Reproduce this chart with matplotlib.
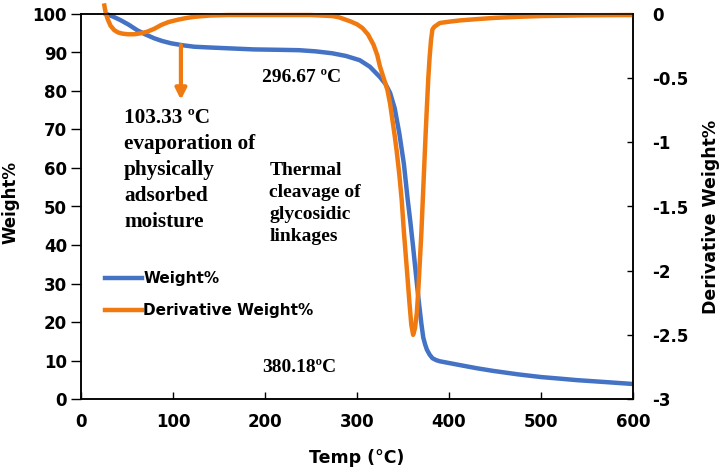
import matplotlib
matplotlib.use("Agg")
import matplotlib.pyplot as plt
from matplotlib.lines import Line2D

# ---- data ----
temp_w = [25, 30, 36, 43, 52, 61, 70, 79.5, 88, 97.7, 110, 123, 140, 159, 188, 215,
          237, 255, 273, 288, 303, 314, 325, 331, 336, 341, 346, 351, 355, 358, 361,
          364, 367, 370, 372, 374, 376, 379, 382, 386, 390, 401, 412, 430, 448, 475,
          500, 520, 539, 570, 600]
weight = [100.2, 99.8, 99.2, 98.4, 97.2, 95.8, 94.7, 93.7, 93.0, 92.4, 91.9, 91.5,
          91.3, 91.1, 90.8, 90.7, 90.6, 90.3, 89.8, 89.1, 88.0, 86.3, 83.6, 81.8,
          79.5, 75.5, 69, 61, 52, 46, 39.5, 32.5, 25.7, 19.5, 16, 14.2, 12.8, 11.5,
          10.6, 10.1, 9.8, 9.3, 8.8, 8.0, 7.3, 6.4, 5.7, 5.3, 4.9, 4.4, 3.9]

temp_d = [25, 26, 27, 29, 32, 36, 40, 45, 51, 58, 65, 72, 80, 87, 95, 105, 114, 123,
          140, 159, 200, 250, 273, 280, 286, 293, 300, 306, 312, 318, 322, 325, 329,
          333, 336, 338, 341, 343, 346, 348.6, 351, 354, 357, 359, 361, 363, 365,
          366.5, 368, 370, 371.5, 373, 374.5, 376, 377.5, 379, 380.5, 382, 384, 386,
          390, 400, 412, 430, 450, 475, 500, 550, 600]
deriv = [0.083, 0.04, 0.005, -0.04, -0.09, -0.125, -0.143, -0.153, -0.158, -0.158,
         -0.15, -0.138, -0.114, -0.086, -0.063, -0.045, -0.032, -0.022, -0.012,
         -0.008, -0.008, -0.008, -0.016, -0.025, -0.04, -0.058, -0.08, -0.11, -0.16,
         -0.24, -0.32, -0.41, -0.5, -0.59, -0.7, -0.8, -0.95, -1.06, -1.25, -1.45,
         -1.7, -1.97, -2.25, -2.42, -2.50, -2.45, -2.33, -2.17, -1.97, -1.7, -1.45,
         -1.2, -0.95, -0.72, -0.5, -0.33, -0.2, -0.12, -0.1, -0.09, -0.07, -0.06,
         -0.05, -0.04, -0.03, -0.022, -0.016, -0.01, -0.008]

x_ticks = [0, 100, 200, 300, 400, 500, 600]
y_ticks = [0, 10, 20, 30, 40, 50, 60, 70, 80, 90, 100]
y2_ticks = [-3, -2.5, -2, -1.5, -1, -0.5, 0]
y2_ticklabels = ['-3', '-2.5', '-2', '-1.5', '-1', '-0.5', '0']

series_names = ['Weight%', 'Derivative Weight%']
arrow_x = 108.6
arrow_y = (91.9, 77.7)

BLUE = '#4472C4'
ORANGE = '#F07A10'
SANS = 'DejaVu Sans'
SERIF = 'Liberation Serif'

fig = plt.figure(figsize=(7.21, 4.73), dpi=100)
ax = fig.add_axes([81/721, 74/473, 552/721, 385/473])
ax2 = ax.twinx()

ax.plot(temp_w, weight, color=BLUE, lw=3.2, solid_capstyle='butt',
        solid_joinstyle='round', clip_on=False)
ax2.plot(temp_d, deriv, color=ORANGE, lw=3.2, solid_capstyle='butt',
         solid_joinstyle='round', clip_on=False)

ax.set_xlim(0, 600)
ax.set_ylim(0, 100)
ax2.set_ylim(-3, 0)

ax.set_xticks(x_ticks)
ax.set_xticklabels([str(v) for v in x_ticks])
ax.set_yticks(y_ticks)
ax.set_yticklabels([str(v) for v in y_ticks])
ax2.set_yticks(y2_ticks)
ax2.set_yticklabels(y2_ticklabels)

for a in (ax, ax2):
    for s in a.spines.values():
        s.set_linewidth(1.1)
        s.set_color('black')

ax.tick_params(axis='x', direction='in', length=5, width=1, pad=10)
ax.tick_params(axis='y', direction='out', length=7, width=1, pad=3)
ax2.tick_params(axis='y', direction='in', length=4.5, width=1, pad=14)

for lab in ax.get_xticklabels() + ax.get_yticklabels() + ax2.get_yticklabels():
    lab.set_fontfamily(SANS)
    lab.set_fontweight('bold')
    lab.set_fontsize(12)

# axis titles
fig.text(10/721, 1 - 202/473, 'Weight%', rotation=90, ha='center', va='center',
         fontfamily=SANS, fontweight='bold', fontsize=12)
fig.text(711/721, 1 - 217/473, 'Derivative Weight%', rotation=90, ha='center',
         va='center', fontfamily=SANS, fontweight='bold', fontsize=12.5)
fig.text(357/721, 1 - 458/473, 'Temp (°C)', ha='center', va='center',
         fontfamily=SANS, fontweight='bold', fontsize=12.5)

# annotations
tkw = dict(fontfamily=SERIF, fontweight='bold', color='black')
ax.text(197.2, 82.3, '296.67 ºC', ha='left', va='baseline', fontsize=14, **tkw)
ax.text(46.8, 75.6, '103.33 ºC\nevaporation of\nphysically\nadsorbed\nmoisture',
        ha='left', va='top', linespacing=1.4, fontsize=15.3, **tkw)
ax.text(204.8, 61.6, 'Thermal\ncleavage of\nglycosidic\nlinkages',
        ha='left', va='top', linespacing=1.4, fontsize=14, **tkw)
ax.text(197.2, 7.0, '380.18ºC', ha='left', va='baseline', fontsize=14, **tkw)

ax.annotate('', xy=(arrow_x, arrow_y[1]), xytext=(arrow_x, arrow_y[0]),
            arrowprops=dict(arrowstyle='-|>', color=ORANGE, lw=3,
                            mutation_scale=16, shrinkA=0, shrinkB=0))

handles = [Line2D([], [], color=BLUE, lw=3.2), Line2D([], [], color=ORANGE, lw=3.2)]
leg = ax2.legend(handles, series_names, loc='center left',
                 bbox_to_anchor=(0.0435, 0.271), frameon=False, borderpad=0,
                 borderaxespad=0, handlelength=2.4, handletextpad=0.1,
                 labelspacing=1.15,
                 prop=dict(family=SANS, weight='bold', size=11))

fig.savefig('out.png', dpi=100)
